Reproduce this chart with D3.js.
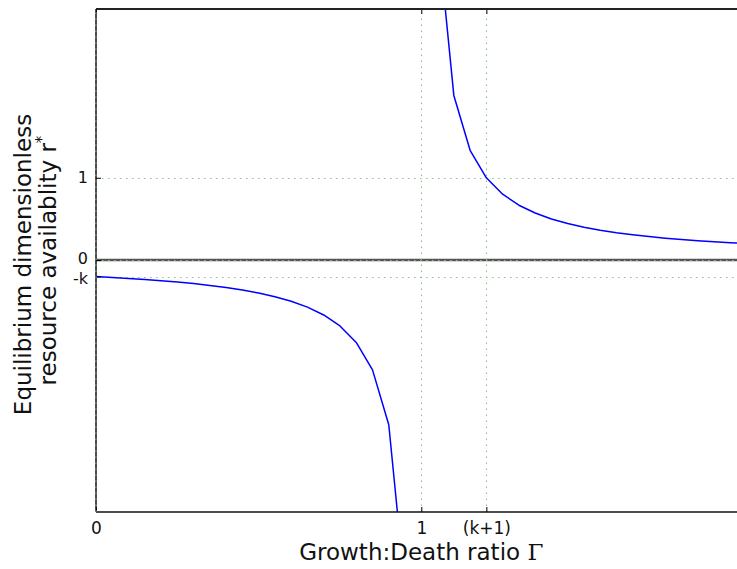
<!DOCTYPE html>
<html>
<head>
<meta charset="utf-8">
<script src="https://cdn.jsdelivr.net/npm/d3@7"></script>
<style>
  html, body { margin: 0; padding: 0; background: #fff; }
  svg { display: block; font-family: "DejaVu Sans", sans-serif; }
</style>
</head>
<body>
<svg id="chart" width="737" height="569"></svg>
<script>
// Growth:death ratio Γ and equilibrium resource availability r* = k/(Γ-1), k = 0.2
const gamma = [0, 0.05, 0.1, 0.15, 0.2, 0.25, 0.3, 0.35, 0.4, 0.45, 0.5, 0.55, 0.6, 0.65, 0.7,
  0.75, 0.8, 0.85, 0.9, 0.95, 1.0, 1.05, 1.1, 1.15, 1.2, 1.25, 1.3, 1.35, 1.4, 1.45, 1.5,
  1.55, 1.6, 1.65, 1.7, 1.75, 1.8, 1.85, 1.9, 1.95, 2.0];
const rStar = [-0.2, -0.2105, -0.2222, -0.2353, -0.25, -0.2667, -0.2857, -0.3077, -0.3333, -0.3636,
  -0.4, -0.4444, -0.5, -0.5714, -0.6667, -0.8, -1.0, -1.3333, -2.0, -4.0, null, 4.0, 2.0,
  1.3333, 1.0, 0.8, 0.6667, 0.5714, 0.5, 0.4444, 0.4, 0.3636, 0.3333, 0.3077, 0.2857,
  0.2667, 0.25, 0.2353, 0.2222, 0.2105, 0.2];

const k = 0.2;
const xTickValues = [0, 1, 1 + k];
const xTickLabels = ["0", "1", "(k+1)"];
const yTickValues = [-k, 0, 1];
const yTickLabels = ["-k", "0", "1"];

const xDomain = [0, 2];
const yDomain = [-3.06, 3.05];

const svg = d3.select("#chart");
const margin = { left: 96, top: 9, bottom: 57 };
const plotW = 650.6;
const plotH = 569 - margin.top - margin.bottom;

const x = d3.scaleLinear().domain(xDomain).range([margin.left, margin.left + plotW]);
const y = d3.scaleLinear().domain(yDomain).range([margin.top + plotH, margin.top]);

svg.append("defs").append("clipPath").attr("id", "plot-clip")
  .append("rect")
  .attr("x", x(xDomain[0])).attr("y", y(yDomain[1]))
  .attr("width", plotW).attr("height", plotH);

const plot = svg.append("g").attr("clip-path", "url(#plot-clip)");

// Zero reference line
plot.append("line")
  .attr("x1", x(xDomain[0])).attr("x2", x(xDomain[1]))
  .attr("y1", y(0)).attr("y2", y(0))
  .attr("stroke", "#555").attr("stroke-width", 2.5);

// Dotted green grid at the tick positions
const gridStyle = g => g
  .attr("stroke", "#86c486")
  .attr("stroke-width", 1.1).attr("stroke-dasharray", "1.5,4.5");

plot.selectAll("line.vgrid").data(xTickValues).join("line")
  .attr("class", "vgrid")
  .attr("x1", d => Math.round(x(d)) + 0.5).attr("x2", d => Math.round(x(d)) + 0.5)
  .attr("y1", y(yDomain[0])).attr("y2", y(yDomain[1]))
  .call(gridStyle);

plot.selectAll("line.hgrid").data(yTickValues).join("line")
  .attr("class", "hgrid")
  .attr("y1", d => Math.round(y(d)) + 0.5).attr("y2", d => Math.round(y(d)) + 0.5)
  .attr("x1", x(xDomain[0])).attr("x2", x(xDomain[1]))
  .call(gridStyle);

// Curve (broken at Γ = 1)
const points = gamma.map((g, i) => ({ g, r: rStar[i] }));
const line = d3.line()
  .defined(d => d.r !== null)
  .x(d => x(d.g))
  .y(d => y(d.r));

plot.append("path")
  .datum(points)
  .attr("d", line)
  .attr("fill", "none")
  .attr("stroke", "#0000ff")
  .attr("stroke-width", 1.5)
  .attr("stroke-linejoin", "round");

// Axes with inward ticks on all four sides
const tickLen = 5;
const xBottom = d3.axisBottom(x).tickValues(xTickValues)
  .tickFormat((d, i) => xTickLabels[i]).tickSizeInner(-tickLen).tickSizeOuter(0).tickPadding(10);
const xTop = d3.axisTop(x).tickValues(xTickValues)
  .tickFormat("").tickSizeInner(-tickLen).tickSizeOuter(0);
const yLeft = d3.axisLeft(y).tickValues(yTickValues)
  .tickFormat((d, i) => yTickLabels[i]).tickSizeInner(-tickLen).tickSizeOuter(0).tickPadding(8);
const yRight = d3.axisRight(y).tickValues(yTickValues)
  .tickFormat("").tickSizeInner(-tickLen).tickSizeOuter(0);

function styleAxis(g) {
  g.select(".domain").remove();
  g.selectAll(".tick line").attr("stroke", "#000").attr("stroke-width", 1);
  g.selectAll(".tick text").attr("fill", "#111").style("font-size", "17px")
    .style("font-family", "'DejaVu Sans', sans-serif");
}

svg.append("g").attr("transform", `translate(0,${y(yDomain[0])})`).call(xBottom).call(styleAxis);
svg.append("g").attr("transform", `translate(0,${y(yDomain[1])})`).call(xTop).call(styleAxis);
const yAxisG = svg.append("g").attr("transform", `translate(${x(xDomain[0])},0)`).call(yLeft).call(styleAxis);
// The -k and 0 labels sit close together; nudge them apart slightly
yAxisG.selectAll(".tick text")
  .style("font-size", "16px")
  .attr("y", d => d === -k ? 1.5 : d === 0 ? -1.5 : 0);
svg.append("g").attr("transform", `translate(${x(xDomain[1])},0)`).call(yRight).call(styleAxis);

// Frame
const frame = svg.append("g").attr("fill", "none");
frame.append("line").attr("x1", x(0)).attr("x2", x(2)).attr("y1", y(yDomain[1])).attr("y2", y(yDomain[1]))
  .attr("stroke", "#222").attr("stroke-width", 2);
frame.append("line").attr("x1", x(0)).attr("x2", x(2)).attr("y1", y(yDomain[0])).attr("y2", y(yDomain[0]))
  .attr("stroke", "#111").attr("stroke-width", 1.5);
frame.append("line").attr("x1", x(0)).attr("x2", x(0)).attr("y1", y(yDomain[0])).attr("y2", y(yDomain[1]))
  .attr("stroke", "#111").attr("stroke-width", 1.5);
frame.append("line").attr("x1", x(0)).attr("x2", x(0)).attr("y1", y(yDomain[0])).attr("y2", y(yDomain[1]))
  .call(gridStyle);

// Axis titles
const xTitle = svg.append("text")
  .attr("x", x(1)).attr("y", 560)
  .attr("text-anchor", "middle")
  .attr("fill", "#111")
  .style("font-size", "23px");
xTitle.append("tspan").text("Growth:Death ratio ");
xTitle.append("tspan").style("font-family", "'DejaVu Serif', serif").text("Γ");

const yTitle = svg.append("text")
  .attr("transform", `translate(0,${(y(yDomain[0]) + y(yDomain[1])) / 2}) rotate(-90)`)
  .attr("text-anchor", "middle")
  .attr("fill", "#111")
  .style("font-size", "23px");
yTitle.append("tspan").attr("x", -4).attr("y", 31).text("Equilibrium dimensionless");
const line2 = yTitle.append("tspan").attr("x", 0).attr("y", 56);
line2.text("resource availablity r");
yTitle.append("tspan").attr("dy", -9).style("font-size", "15px").text("*");
</script>
</body>
</html>
